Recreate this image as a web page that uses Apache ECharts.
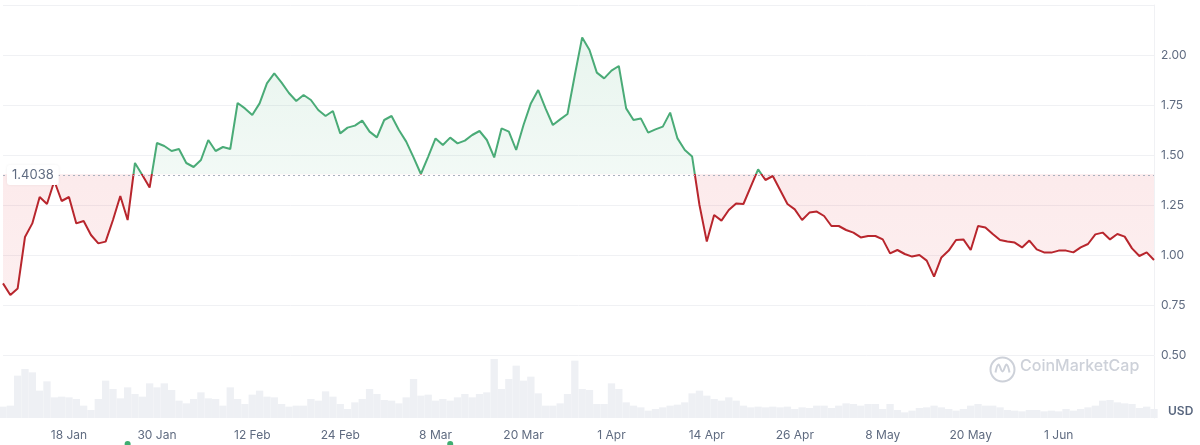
<!DOCTYPE html>
<html>
<head>
<meta charset="utf-8">
<script src="https://cdn.jsdelivr.net/npm/echarts@6/dist/echarts.min.js"></script>
<style>
  html, body { margin: 0; padding: 0; background: #fff; }
  #chart { width: 1200px; height: 445px; }
</style>
</head>
<body>
<div id="chart"></div>
<script>
// ---- data (daily, 9 Jan 2024 -> 14 Jun 2024) ----
const START_DATE = [2024, 0, 9];
const BASELINE = 1.4038;
const TICK_LABELS = ['18 Jan','30 Jan','12 Feb','24 Feb','8 Mar','20 Mar','1 Apr','14 Apr','26 Apr','8 May','20 May','1 Jun'];
const Y_TICKS = [0.50, 0.75, 1.00, 1.25, 1.50, 1.75, 2.00];
const EVENT_DATES = ['26 Jan', '10 Mar'];

const price = [
  0.858,0.80,0.833,1.09,1.158,1.29,1.255,1.37,1.27,1.29,
  1.158,1.17,1.10,1.058,1.067,1.175,1.295,1.175,1.46,1.40,
  1.337,1.56,1.545,1.52,1.53,1.46,1.44,1.475,1.575,1.52,
  1.54,1.53,1.76,1.733,1.70,1.758,1.858,1.908,1.862,1.81,
  1.77,1.80,1.775,1.725,1.695,1.72,1.608,1.637,1.647,1.672,
  1.617,1.588,1.675,1.695,1.625,1.567,1.488,1.405,1.492,1.583,
  1.55,1.587,1.558,1.572,1.60,1.62,1.575,1.488,1.633,1.617,
  1.525,1.65,1.758,1.825,1.733,1.65,1.678,1.705,1.90,2.088,
  2.025,1.912,1.883,1.922,1.945,1.733,1.675,1.683,1.612,1.628,
  1.642,1.712,1.583,1.525,1.492,1.25,1.067,1.20,1.172,1.225,
  1.258,1.255,1.342,1.428,1.375,1.395,1.325,1.255,1.228,1.175,
  1.212,1.217,1.195,1.145,1.145,1.125,1.112,1.088,1.095,1.095,
  1.078,1.008,1.025,1.005,0.992,1.00,0.972,0.892,0.988,1.022,
  1.075,1.078,1.025,1.145,1.138,1.105,1.075,1.067,1.062,1.038,
  1.072,1.028,1.013,1.012,1.022,1.022,1.013,1.038,1.055,1.103,
  1.112,1.078,1.105,1.092,1.033,0.995,1.013,0.975
];

const volume = [
  34,37,127,147,137,82,110,62,64,62,
  57,37,24,57,112,87,59,92,72,64,
  104,92,104,84,52,44,57,77,59,57,
  37,92,57,42,70,82,64,62,42,34,
  37,37,57,52,80,64,42,27,47,57,
  87,72,54,52,44,62,117,67,70,52,
  57,52,62,72,62,72,77,177,87,117,
  157,112,124,74,37,37,44,72,172,87,
  84,42,42,104,87,47,37,32,22,27,
  32,37,40,47,74,82,67,57,52,62,
  52,37,32,34,32,34,32,34,27,32,
  30,37,37,30,37,44,42,37,42,42,
  27,42,24,17,22,30,32,37,32,27,
  22,27,37,42,37,37,32,24,22,20,
  24,24,20,22,20,27,22,27,32,37,
  52,54,47,44,42,30,34,27
];

const MONTHS = ['Jan','Feb','Mar','Apr','May','Jun','Jul','Aug','Sep','Oct','Nov','Dec'];
const dates = price.map((_, i) => {
  const d = new Date(START_DATE[0], START_DATE[1], START_DATE[2] + i);
  return d.getDate() + ' ' + MONTHS[d.getMonth()];
});

const Y_MIN = 0.5, Y_MAX = 2.25;
const UP = '#4aab77';
const DOWN = '#b8262d';
const GRID_COLOR = '#f0f1f4';
const TEXT = '#5f6b80';
const FONT = 'Inter, "Noto Sans", sans-serif';

const chart = echarts.init(document.getElementById('chart'), null, { renderer: 'canvas' });

chart.setOption({
  animation: false,
  backgroundColor: '#ffffff',
  textStyle: { fontFamily: FONT },
  grid: [
    { left: 3, right: 46, top: 5, height: 350 },
    { left: 3, right: 46, top: 356, height: 62 }
  ],
  xAxis: [
    { type: 'category', gridIndex: 0, data: dates, boundaryGap: false, show: false },
    {
      type: 'category', gridIndex: 1, data: dates, boundaryGap: false,
      axisLine: { show: false }, axisTick: { show: false },
      axisLabel: {
        color: TEXT, fontSize: 12, fontFamily: FONT, margin: 11,
        interval: (idx, val) => TICK_LABELS.indexOf(val) !== -1
      }
    }
  ],
  yAxis: [
    {
      type: 'value', gridIndex: 0, position: 'right',
      min: Y_MIN, max: Y_MAX, interval: 0.25,
      axisLine: { show: true, lineStyle: { color: GRID_COLOR } },
      axisTick: { show: false },
      splitLine: { lineStyle: { color: GRID_COLOR } },
      axisLabel: {
        color: TEXT, fontSize: 12, fontFamily: FONT, margin: 7,
        showMaxLabel: false,
        formatter: v => (Y_TICKS.some(t => Math.abs(t - v) < 1e-9) ? v.toFixed(2) : '')
      }
    },
    {
      type: 'value', gridIndex: 1, position: 'right', min: 0, max: 186,
      axisLine: { show: true, lineStyle: { color: GRID_COLOR } },
      axisTick: { show: false }, axisLabel: { show: false }, splitLine: { show: false }
    }
  ],
  series: [
    {
      name: 'Price', type: 'line', xAxisIndex: 0, yAxisIndex: 0,
      data: price, symbol: 'none', smooth: false,
      lineStyle: { width: 2, color: UP },
      areaStyle: { origin: BASELINE, color: 'rgba(76,175,123,0.14)' },
      z: 3,
      markLine: {
        silent: true, symbol: 'none',
        lineStyle: { type: [2, 3], color: '#a9b1bf', width: 1 },
        label: {
          show: true, position: 'insideStart', distance: [4, 0],
          formatter: BASELINE.toFixed(4),
          color: TEXT, fontSize: 13, fontFamily: FONT,
          backgroundColor: '#ffffff', padding: [4, 5, 3, 5], borderRadius: 3,
          shadowBlur: 3, shadowColor: 'rgba(0,0,0,0.06)'
        },
        data: [{ yAxis: BASELINE }]
      }
    },
    {
      name: 'Volume', type: 'bar', xAxisIndex: 1, yAxisIndex: 1,
      data: volume, barWidth: '100%', silent: true,
      itemStyle: { color: '#eef0f4' }, z: 1
    }
  ],
  graphic: [
    {
      type: 'circle', left: 988, top: 355,
      shape: { r: 12 },
      style: { fill: 'none', stroke: '#cdd1d9', lineWidth: 2 }, silent: true
    },
    {
      type: 'polyline', left: 993, top: 362,
      shape: { points: [[0, 9], [3, 1], [7, 8], [11, 1], [14, 9]], smooth: 0.4 },
      style: { fill: 'none', stroke: '#cdd1d9', lineWidth: 2 }, silent: true
    },
    {
      type: 'text', left: 1020, top: 358,
      style: { text: 'CoinMarketCap', fill: '#cdd1d9', font: '500 16px ' + FONT }, silent: true
    },
    {
      type: 'text', left: 1168, top: 405,
      style: { text: 'USD', fill: '#58667e', font: '600 12px ' + FONT }, silent: true
    }
  ]
});

// Colour split at the baseline, positioned through the library's own y scale.
const yTop = chart.convertToPixel({ yAxisIndex: 0 }, Y_MAX);
const yBot = chart.convertToPixel({ yAxisIndex: 0 }, Y_MIN);
const yBase = chart.convertToPixel({ yAxisIndex: 0 }, BASELINE);
const f = (yBase - yTop) / (yBot - yTop);

const lineGrad = new echarts.graphic.LinearGradient(0, yTop, 0, yBot, [
  { offset: 0, color: UP }, { offset: f, color: UP },
  { offset: f, color: DOWN }, { offset: 1, color: DOWN }
], true);
const areaGrad = new echarts.graphic.LinearGradient(0, yTop, 0, yBot, [
  { offset: 0, color: 'rgba(76,175,123,0.20)' },
  { offset: f, color: 'rgba(76,175,123,0.10)' },
  { offset: f, color: 'rgba(226,60,70,0.15)' },
  { offset: 1, color: 'rgba(226,60,70,0.10)' }
], true);

// small green event markers under the date axis
const eventMarks = EVENT_DATES.map(d => ({
  type: 'circle',
  x: chart.convertToPixel({ xAxisIndex: 1 }, d), y: 444,
  shape: { r: 3 }, style: { fill: '#3fae71' }, silent: true
}));

chart.setOption({
  series: [{ name: 'Price', lineStyle: { color: lineGrad }, areaStyle: { color: areaGrad } }],
  graphic: eventMarks.map((g, i) => Object.assign({ id: 'evt' + i }, g))
});
</script>
</body>
</html>
